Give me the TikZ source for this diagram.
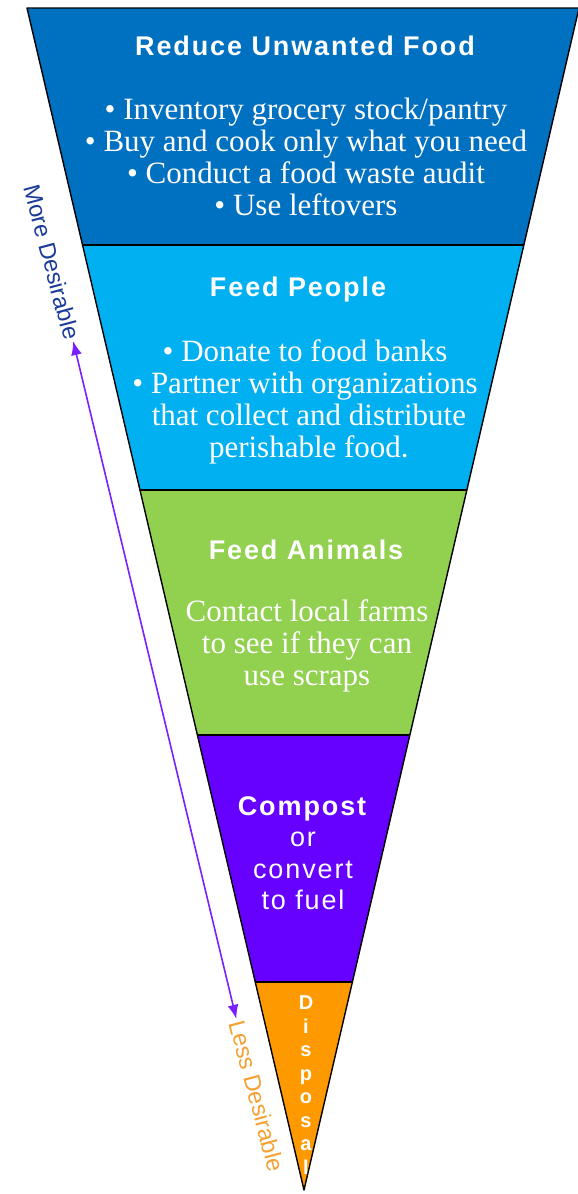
\documentclass[tikz,border=0pt]{standalone}
\usepackage{fontspec}
\setmainfont{Liberation Serif}
\setsansfont{Liberation Sans}
\newfontfamily\headfont[LetterSpace=7]{Liberation Sans}
\usetikzlibrary{calc, arrows.meta, positioning}
\definecolor{reduceblue}{HTML}{0070C0}
\definecolor{peopleblue}{HTML}{00B0F0}
\definecolor{animalgreen}{HTML}{92D050}
\definecolor{compostviolet}{HTML}{6600FF}
\definecolor{disposalorange}{HTML}{FF9900}
\definecolor{arrowviolet}{HTML}{7A20FF}
\definecolor{morenavy}{HTML}{1A3A99}
\definecolor{lessorange}{HTML}{F5A030}

\tikzset{
  band/.style={draw=black, line width=1.4pt, line join=round},
  heading/.style={text=white, font=\headfont\bfseries\fontsize{27}{30}\selectfont},
  plainhead/.style={text=white, align=center, font=\headfont\fontsize{27}{31.5}\selectfont},
  body/.style={text=white, align=center, font=\fontsize{31}{32}\selectfont},
  sidelabel/.style={font=\sffamily\fontsize{23.5}{25}\selectfont, rotate=-75, inner sep=2pt},
}

\begin{document}
\begin{tikzpicture}[x=1pt, y=-1pt]
  \useasboundingbox (0,0) rectangle (578,1194);

  % funnel corners
  \coordinate (tl) at (27,8);
  \coordinate (tr) at (579,8);
  \coordinate (tip) at (304,1190);
  % band edges along both sides
  \foreach \name/\t in {a/0.2005, b/0.4078, c/0.6151, d/0.824} {
    \coordinate (l\name) at ($(tl)!\t!(tip)$);
    \coordinate (r\name) at ($(tr)!\t!(tip)$);
  }

  % bands
  \fill[reduceblue] (tl) -- (tr) -- (ra) -- (la) -- cycle;
  \fill[peopleblue] (la) -- (ra) -- (rb) -- (lb) -- cycle;
  \fill[animalgreen] (lb) -- (rb) -- (rc) -- (lc) -- cycle;
  \fill[compostviolet] (lc) -- (rc) -- (rd) -- (ld) -- cycle;
  \fill[disposalorange] (ld) -- (rd) -- (tip) -- cycle;

  % outline and dividers
  \draw[band] (tl) -- (tr) -- (tip) -- cycle;
  \foreach \name in {a,b,c,d}
    \draw[band] (l\name) -- (r\name);

  % band texts
  \node[heading] (reduce) at (305,46) {Reduce Unwanted Food};
  \node[body] (reducetips) at (306,157) {\textbullet{} Inventory grocery stock/pantry\\
    \textbullet{} Buy and cook only what you need\\
    \textbullet{} Conduct a food waste audit\\
    \textbullet{} Use leftovers};

  \node[heading] (people) at (298,290) {Feed People};
  \node[body] (peopletips) at (305,402) {\textbullet{} Donate to food banks\\
    \textbullet{} Partner with organizations\\
    \ that collect and distribute\\
    \ perishable food.};

  \node[heading] (animals) at (306,550) {Feed Animals};
  \node[body] (animaltips) at (307,646) {Contact local farms\\
    to see if they can\\
    use scraps};

  \node[plainhead] (compost) at (303,853) {\textbf{Compost}\\or\\convert\\to fuel};

  \node[text=white, align=center, font=\sffamily\bfseries\fontsize{20}{23.5}\selectfont]
    (disposal) at (306,1085) {D\\i\\s\\p\\o\\s\\a\\l};

  % desirability scale
  \node[sidelabel, text=morenavy] (more) at (52,262) {More Desirable};
  \node[sidelabel, text=lessorange] (less) at (257,1096) {Less Desirable};
  \draw[{Latex[length=14pt,width=11pt]}-{Latex[length=14pt,width=11pt]},
    line width=1.6pt, arrowviolet] (more.east) -- (less.west);
\end{tikzpicture}
\end{document}
